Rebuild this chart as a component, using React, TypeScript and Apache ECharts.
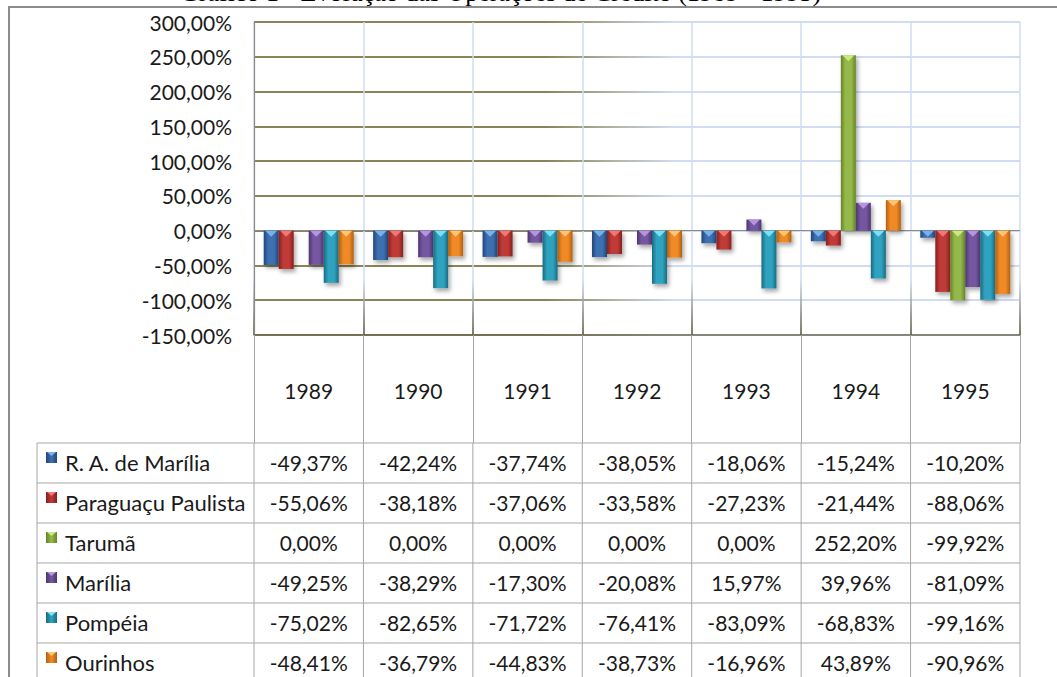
import React, { useEffect, useRef } from "react";
import * as echarts from "echarts";

const years = ["1989", "1990", "1991", "1992", "1993", "1994", "1995"];
const seriesNames = ["R. A. de Marília", "Paraguaçu Paulista", "Tarumã", "Marília", "Pompéia", "Ourinhos"];
const raMarilia = [-49.37, -42.24, -37.74, -38.05, -18.06, -15.24, -10.2];
const paraguacu = [-55.06, -38.18, -37.06, -33.58, -27.23, -21.44, -88.06];
const taruma = [0, 0, 0, 0, 0, 252.2, -99.92];
const marilia = [-49.25, -38.29, -17.3, -20.08, 15.97, 39.96, -81.09];
const pompeia = [-75.02, -82.65, -71.72, -76.41, -83.09, -68.83, -99.16];
const ourinhos = [-48.41, -36.79, -44.83, -38.73, -16.96, 43.89, -90.96];
const yTicks = { min: -150, max: 300, interval: 50 };
const titleText = "Gráfico 1 - Evolução das Operações de Crédito (1989 - 1995)";

const allValues = [raMarilia, paraguacu, taruma, marilia, pompeia, ourinhos];

const palette = [
  { edge: "#22467a", mid: "#3d6fb0", tri: "#78b4f0" },
  { edge: "#86201f", mid: "#bf3a37", tri: "#f37a78" },
  { edge: "#66842a", mid: "#94b848", tri: "#cdea82" },
  { edge: "#4d376f", mid: "#7556a0", tri: "#b898e6" },
  { edge: "#1a6b80", mid: "#2fa2bf", tri: "#7fe4fa" },
  { edge: "#b0600f", mid: "#f08a26", tri: "#ffc878" },
];

const FONT = "Lato";
const FS = 21;
const W = 1057;
const H = 677;
const GL = 254;
const GR = 1020;
const GT = 22;
const GB = 335;
const BAR_W = 15;
const TABLE_L = 37;
const TABLE_T = 443;
const ROW_H = 40;

const fmt = (v: number) => v.toFixed(2).replace(".", ",") + "%";

function barGradient(p: { edge: string; mid: string }) {
  return new echarts.graphic.LinearGradient(0, 0, 1, 0, [
    { offset: 0, color: p.edge },
    { offset: 0.3, color: p.mid },
    { offset: 0.7, color: p.mid },
    { offset: 1, color: p.edge },
  ]);
}

export default function App() {
  const ref = useRef<HTMLDivElement>(null);
  useEffect(() => {
    if (!ref.current) return;
    const chart = echarts.init(ref.current, null, { renderer: "svg" });

    const barSeries: any[] = allValues.map((vals, i) => ({
      type: "bar",
      name: seriesNames[i],
      data: vals,
      barWidth: BAR_W,
      barGap: "0%",
      z: 3,
      itemStyle: {
        color: barGradient(palette[i]),
        shadowBlur: 4,
        shadowOffsetX: 2,
        shadowOffsetY: 3,
        shadowColor: "rgba(0,0,0,0.35)",
      },
      markLine:
        i === 0
          ? {
              silent: true,
              symbol: "none",
              label: { show: false },
              lineStyle: { color: "#8a8a8a", width: 1.2, type: "solid" },
              data: [{ yAxis: 0 }],
              z: 2,
            }
          : undefined,
    }));

    const bevelSeries: any[] = allValues.map((vals, i) => ({
      type: "scatter",
      name: seriesNames[i] + " bevel",
      data: vals.map((v) => (v === 0 ? "-" : Math.max(v, 0))),
      symbol: "triangle",
      symbolRotate: 180,
      symbolSize: [BAR_W - 3, 6],
      symbolOffset: [(i - 2.5) * BAR_W, 3],
      silent: true,
      z: 5,
      itemStyle: { color: palette[i].tri, opacity: 0.95 },
    }));

    const colW = (GR - GL) / years.length;
    const graphics: any[] = [];
    graphics.push({
      type: "rect",
      shape: { x: 9, y: 7, width: 1200, height: 800 },
      style: { fill: "none", stroke: "#8c8c8c", lineWidth: 2 },
      silent: true,
      z: 1,
    });
    graphics.push({
      type: "text",
      x: 180,
      y: -8,
      style: {
        text: titleText,
        font: "26px 'Liberation Serif'",
        fill: "#000",
        verticalAlign: "middle",
        align: "left",
      },
      z: 10,
    });
    const nRows = seriesNames.length;
    for (let r = 0; r <= nRows; r++) {
      const y = TABLE_T + r * ROW_H;
      graphics.push({
        type: "line",
        shape: { x1: TABLE_L, y1: y, x2: GR, y2: y },
        style: { stroke: "#a6a6a6", lineWidth: 1 },
        silent: true,
        z: 10,
      });
    }
    const vx = [TABLE_L];
    for (let c = 0; c <= years.length; c++) vx.push(GL + c * colW);
    vx.forEach((x) => {
      graphics.push({
        type: "line",
        shape: { x1: x, y1: TABLE_T, x2: x, y2: TABLE_T + nRows * ROW_H },
        style: { stroke: "#a6a6a6", lineWidth: 1 },
        silent: true,
        z: 10,
      });
    });
    allValues.forEach((vals, r) => {
      const cy = TABLE_T + r * ROW_H + ROW_H / 2 - 1;
      const p = palette[r];
      graphics.push({
        type: "rect",
        shape: { x: 46, y: cy - 10, width: 11, height: 11 },
        style: {
          fill: new echarts.graphic.LinearGradient(0, 0, 1, 0, [
            { offset: 0, color: p.edge },
            { offset: 0.5, color: p.mid },
            { offset: 1, color: p.edge },
          ]),
        },
        silent: true,
        z: 11,
      });
      graphics.push({
        type: "polygon",
        shape: { points: [[47, cy - 10], [56, cy - 10], [51.5, cy - 6]] },
        style: { fill: p.tri },
        silent: true,
        z: 12,
      });
      graphics.push({
        type: "text",
        x: 65,
        y: cy,
        style: {
          text: seriesNames[r],
          font: `${FS + 1}px ${FONT}`,
          fill: "#1a1a1a",
          verticalAlign: "middle",
          align: "left",
        },
        z: 11,
      });
      vals.forEach((v, c) => {
        graphics.push({
          type: "text",
          x: GL + (c + 0.5) * colW,
          y: cy,
          style: {
            text: fmt(v),
            font: `${FS}px ${FONT}`,
            fill: "#1a1a1a",
            verticalAlign: "middle",
            align: "center",
          },
          z: 11,
        });
      });
    });

    chart.setOption({
      animation: false,
      backgroundColor: "#ffffff",
      grid: { left: GL, top: GT, width: GR - GL, height: GB - GT, containLabel: false },
      xAxis: {
        type: "category",
        data: years,
        boundaryGap: true,
        axisLine: { show: true, onZero: false, lineStyle: { color: "#6e6b55", width: 1.5 } },
        axisTick: { show: true, length: TABLE_T - GB, interval: 0, lineStyle: { color: "#a6a6a6" } },
        axisLabel: { show: true, margin: 45, fontFamily: FONT, fontSize: FS, color: "#1a1a1a", interval: 0 },
        splitLine: {
          show: true,
          interval: 0,
          lineStyle: {
            width: 1.5,
            color: new echarts.graphic.LinearGradient(
              0,
              GT,
              0,
              GB,
              [
                { offset: 0, color: "#cfdcf1" },
                { offset: 0.82, color: "#cfdcf1" },
                { offset: 1, color: "#4f4d33" },
              ],
              true
            ),
          },
        },
      },
      yAxis: {
        type: "value",
        min: yTicks.min,
        max: yTicks.max,
        interval: yTicks.interval,
        axisLine: { show: true, lineStyle: { color: "#8a8a8a", width: 1.2 } },
        axisTick: { show: false },
        axisLabel: {
          margin: 22,
          fontFamily: FONT,
          fontSize: FS,
          color: "#1a1a1a",
          formatter: (v: number) => fmt(v),
        },
        splitLine: {
          show: true,
          lineStyle: {
            width: 2,
            color: new echarts.graphic.LinearGradient(
              GL,
              0,
              GR,
              0,
              [
                { offset: 0, color: "#8b8456" },
                { offset: 0.38, color: "#8b8456" },
                { offset: 0.55, color: "#cfdcf1" },
                { offset: 1, color: "#cfdcf1" },
              ],
              true
            ),
          },
        },
      },
      series: [...barSeries, ...bevelSeries],
      graphic: graphics,
    });
    return () => chart.dispose();
  }, []);
  return (
    <div
      ref={ref}
      style={{ position: "absolute", left: 0, top: 0, width: W, height: H, background: "#fff" }}
    />
  );
}
